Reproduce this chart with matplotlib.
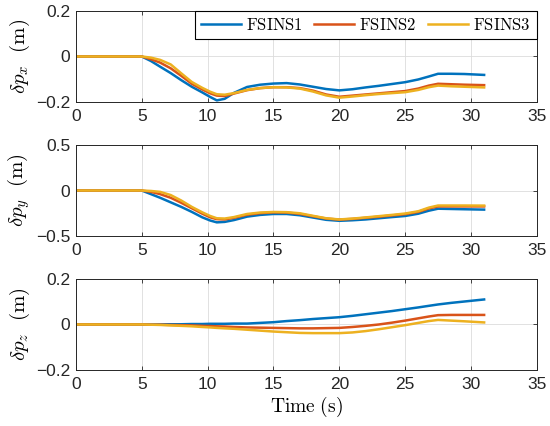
import matplotlib
matplotlib.use("Agg")
import matplotlib.pyplot as plt

# 时间 (s)
t = [0, 4, 5, 5.7, 6.4, 7.2, 8, 8.8, 9.6, 10.2, 10.7, 11.3, 12, 13, 14, 15, 16,
     17, 18, 19, 20, 21, 22, 23, 24, 25, 26, 26.8, 27.5, 28.5, 29.5, 31]

# x 方向位置误差
px1 = [0, 0, 0, -0.02, -0.045, -0.073, -0.104, -0.133, -0.158, -0.178, -0.193, -0.186,
       -0.16, -0.134, -0.124, -0.119, -0.117, -0.123, -0.133, -0.143, -0.149, -0.144,
       -0.136, -0.129, -0.121, -0.113, -0.101, -0.088, -0.076, -0.076, -0.077, -0.081]
px2 = [0, 0, 0, -0.012, -0.027, -0.052, -0.085, -0.12, -0.145, -0.162, -0.172, -0.174,
       -0.163, -0.148, -0.139, -0.135, -0.135, -0.139, -0.15, -0.167, -0.177, -0.172,
       -0.167, -0.162, -0.157, -0.152, -0.141, -0.128, -0.12, -0.122, -0.124, -0.126]
px3 = [0, 0, 0, -0.005, -0.015, -0.035, -0.074, -0.112, -0.138, -0.155, -0.166, -0.168,
       -0.161, -0.147, -0.139, -0.135, -0.136, -0.141, -0.154, -0.171, -0.181, -0.176,
       -0.17, -0.165, -0.161, -0.157, -0.147, -0.135, -0.128, -0.131, -0.133, -0.136]

# y 方向位置误差
py1 = [0, 0, 0, -0.04, -0.08, -0.13, -0.18, -0.235, -0.295, -0.33, -0.35, -0.345,
       -0.325, -0.287, -0.268, -0.258, -0.258, -0.272, -0.297, -0.322, -0.333, -0.327,
       -0.318, -0.305, -0.292, -0.28, -0.255, -0.222, -0.2, -0.203, -0.206, -0.21]
py2 = [0, 0, 0, -0.015, -0.04, -0.08, -0.135, -0.195, -0.255, -0.295, -0.315, -0.318,
       -0.3, -0.266, -0.249, -0.24, -0.242, -0.257, -0.283, -0.308, -0.32, -0.312,
       -0.3, -0.288, -0.274, -0.26, -0.235, -0.197, -0.175, -0.175, -0.175, -0.175]
py3 = [0, 0, 0, -0.005, -0.015, -0.05, -0.11, -0.18, -0.24, -0.28, -0.305, -0.308,
       -0.292, -0.258, -0.242, -0.236, -0.238, -0.25, -0.278, -0.305, -0.318, -0.309,
       -0.296, -0.282, -0.268, -0.253, -0.228, -0.188, -0.165, -0.165, -0.165, -0.166]

# z 方向位置误差
pz1 = [0, 0, 0, 0, 0.0005, 0.001, 0.001, 0.002, 0.002, 0.003, 0.003, 0.003,
       0.004, 0.004, 0.007, 0.01, 0.015, 0.019, 0.024, 0.028, 0.032, 0.038,
       0.045, 0.052, 0.059, 0.067, 0.075, 0.082, 0.088, 0.095, 0.101, 0.11]
pz2 = [0, 0, 0, -0.001, -0.001, -0.002, -0.003, -0.004, -0.006, -0.007, -0.008, -0.009,
       -0.011, -0.013, -0.014, -0.015, -0.016, -0.017, -0.017, -0.016, -0.015, -0.011,
       -0.006, 0.0, 0.008, 0.017, 0.027, 0.035, 0.041, 0.042, 0.042, 0.042]
pz3 = [0, 0, 0, -0.001, -0.002, -0.004, -0.006, -0.008, -0.011, -0.013, -0.015, -0.017,
       -0.019, -0.023, -0.027, -0.031, -0.034, -0.037, -0.038, -0.038, -0.038, -0.035,
       -0.029, -0.021, -0.012, -0.003, 0.007, 0.015, 0.02, 0.017, 0.014, 0.009]

labels = ["FSINS1", "FSINS2", "FSINS3"]
colors = ["#0072BD", "#D95319", "#EDB120"]
ylabels = [r"$\delta p_x\ \ (\mathrm{m})$", r"$\delta p_y\ \ (\mathrm{m})$",
           r"$\delta p_z\ \ (\mathrm{m})$"]
ylims = [0.2, 0.5, 0.2]
data = [[px1, px2, px3], [py1, py2, py3], [pz1, pz2, pz3]]

plt.rcParams["font.family"] = ["Liberation Sans", "DejaVu Sans"]
plt.rcParams["mathtext.fontset"] = "cm"
plt.rcParams["axes.edgecolor"] = "#262626"
plt.rcParams["xtick.color"] = "#262626"
plt.rcParams["ytick.color"] = "#262626"

fig = plt.figure(figsize=(5.5, 4.26), dpi=100)
bottoms = [0.7606, 0.446, 0.1315]

for i in range(3):
    ax = fig.add_axes([0.138, bottoms[i], 0.838, 0.2136])
    for j in range(3):
        ax.plot(t, data[i][j], color=colors[j], lw=1.8, label=r"$\mathrm{%s}$" % labels[j])
    lim = ylims[i]
    ax.set_xlim(0, 35)
    ax.set_ylim(-lim, lim)
    ax.set_xticks(range(0, 36, 5))
    ax.set_yticks([-lim, 0, lim])
    ax.set_yticklabels(["\u2212" + str(lim), "0", str(lim)])
    ax.tick_params(labelsize=12.5, direction="in", length=3, width=0.6,
                   top=True, right=True)
    ax.tick_params(axis="x", pad=5)
    ax.tick_params(axis="y", pad=4)
    ax.grid(True, color="#dcdcdc", lw=0.6)
    ax.set_axisbelow(True)
    for s in ax.spines.values():
        s.set_linewidth(0.7)
    ax.set_ylabel(ylabels[i], fontsize=15, labelpad=3)
    if i == 0:
        leg = ax.legend(loc="upper right", ncol=3, fontsize=12, fancybox=False,
                        edgecolor="black", framealpha=1, borderaxespad=0,
                        handlelength=2.4, columnspacing=0.7, handletextpad=0.3,
                        borderpad=0.35)
        leg.get_frame().set_linewidth(0.8)
    if i == 2:
        ax.set_xlabel(r"$\mathrm{Time\ (s)}$", fontsize=14, labelpad=2)

fig.savefig("out.png", dpi=100)
